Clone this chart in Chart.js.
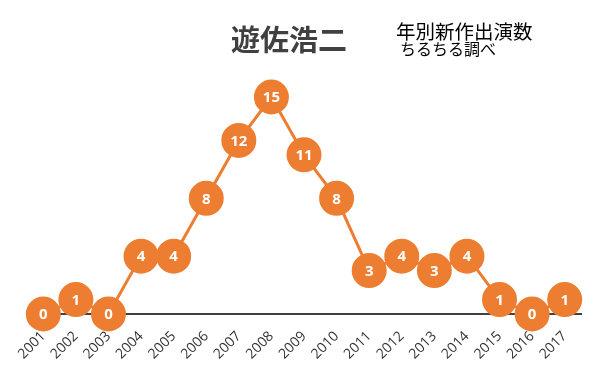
<!DOCTYPE html>
<html>
<head>
<meta charset="utf-8">
<script src="https://cdn.jsdelivr.net/npm/chart.js@4/dist/chart.umd.min.js"></script>
<style>
  html, body { margin: 0; padding: 0; background: #fff; }
  #wrap { width: 601px; height: 376px; }
</style>
</head>
<body>
<div id="wrap"><canvas id="chart" width="601" height="376"></canvas></div>
<script>
const years = ['2001', '2002', '2003', '2004', '2005', '2006', '2007', '2008', '2009',
  '2010', '2011', '2012', '2013', '2014', '2015', '2016', '2017'];
const counts = [0, 1, 0, 4, 4, 8, 12, 15, 11, 8, 3, 4, 3, 4, 1, 0, 1];
const titleText = '遊佐浩二';
const subtitleLines = ['年別新作出演数', 'ちるちる調べ'];

const orange = '#ED7D31';

// numbers inside the circles + the titles
const labelPlugin = {
  id: 'labels',
  afterDatasetsDraw(chart) {
    const ctx = chart.ctx;
    const meta = chart.getDatasetMeta(0);
    ctx.save();
    ctx.fillStyle = '#fff';
    ctx.font = 'bold 15px "Open Sans", "Liberation Sans", sans-serif';
    ctx.textAlign = 'center';
    ctx.textBaseline = 'middle';
    meta.data.forEach((pt, i) => {
      ctx.fillText(String(counts[i]), pt.x, pt.y + 1);
    });
    ctx.restore();
  },
  afterDraw(chart) {
    const ctx = chart.ctx;
    ctx.save();
    ctx.fillStyle = '#404040';
    ctx.font = 'bold 29px "Noto Sans CJK JP", sans-serif';
    ctx.textAlign = 'center';
    ctx.textBaseline = 'alphabetic';
    ctx.fillText(titleText, 289, 51);
    ctx.fillStyle = '#000';
    ctx.textAlign = 'left';
    ctx.font = '19.5px "Noto Sans CJK JP", sans-serif';
    ctx.fillText(subtitleLines[0], 396, 39);
    ctx.font = '16px "Noto Sans CJK JP", sans-serif';
    ctx.fillText(subtitleLines[1], 400, 55);
    ctx.restore();
  }
};

new Chart(document.getElementById('chart'), {
  type: 'line',
  data: {
    labels: years,
    datasets: [{
      data: counts,
      borderColor: orange,
      borderWidth: 3,
      backgroundColor: orange,
      pointBackgroundColor: orange,
      pointBorderColor: orange,
      pointRadius: 16,
      pointHoverRadius: 16,
      tension: 0,
      clip: false
    }]
  },
  options: {
    responsive: false,
    animation: false,
    events: [],
    layout: { padding: { left: 27, right: 20, top: 97, bottom: 0 } },
    plugins: {
      legend: { display: false },
      tooltip: { enabled: false }
    },
    scales: {
      x: {
        offset: true,
        grid: { display: false, drawTicks: false },
        border: { display: true, color: '#404040', width: 2 },
        ticks: {
          color: '#333333',
          font: { size: 14, family: '"Open Sans", "Liberation Sans", sans-serif' },
          minRotation: 45,
          maxRotation: 45,
          padding: 14,
          autoSkip: false
        },
        afterFit(s) { s.height = 62; }
      },
      y: {
        display: false,
        min: 0,
        max: 15
      }
    }
  },
  plugins: [labelPlugin]
});
</script>
</body>
</html>
